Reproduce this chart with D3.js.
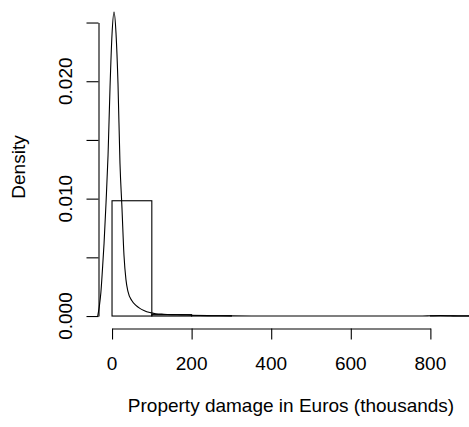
<!DOCTYPE html>
<html>
<head>
<meta charset="utf-8">
<script src="https://cdn.jsdelivr.net/npm/d3@7"></script>
<style>
  body { margin: 0; background: #fff; }
  svg { display: block; font-family: "Liberation Sans", Arial, sans-serif; }
</style>
</head>
<body>
<svg id="grafico"></svg>
<script>
// histogram bins (thousands of euros) and their densities
const binEdges = [0, 100, 200, 300, 400, 500, 600, 700, 800, 900];
const binDensity = [0.00982, 0.00012, 0.00003, 0, 0, 0, 0, 0, 0.00002];

// kernel density curve
const densX = [-36, -32, -28, -24, -20, -15, -10, -5, 0, 5, 10, 15, 20, 25, 30, 35, 40, 50, 60, 70, 80, 95,
  110, 130, 150, 175, 200, 250, 300, 350, 780, 800, 825, 850, 870, 900];
const densY = [0, 0.0008, 0.002, 0.004, 0.0062, 0.0097, 0.0137, 0.0195, 0.024, 0.0259, 0.0241, 0.0198, 0.013,
  0.0092, 0.0052, 0.0031, 0.0021, 0.0013, 0.0009, 0.00065, 0.00048, 0.0003,
  0.0002, 0.00015, 0.00012, 0.0001, 0.00007, 0.00003, 0.00001, 0, 0, 0.00002, 0.00004, 0.00002, 0, 0];

const xTicks = [0, 200, 400, 600, 800];
const yTicks = [0, 0.005, 0.010, 0.015, 0.020, 0.025];
const yLabels = [0, 0.010, 0.020];

const largura = 469, altura = 427;
const fonte = 19;

const svg = d3.select('#grafico').attr('width', largura).attr('height', altura);

const x = d3.scaleLinear().domain([-36, 936]).range([97.7, 484.5]);
const y = d3.scaleLinear().domain([-0.001036, 0.026936]).range([328.2, -0.2]);

// histogram bars
const barras = binDensity.map((d, i) => ({ x0: binEdges[i], x1: binEdges[i + 1], valor: d }));
svg.selectAll('.barra')
  .data(barras)
  .enter()
  .append('rect')
  .classed('barra', true)
  .attr('x', d => x(d.x0))
  .attr('y', d => y(d.valor))
  .attr('width', d => x(d.x1) - x(d.x0))
  .attr('height', d => y(0) - y(d.valor))
  .attr('fill', 'none')
  .attr('stroke', '#000')
  .attr('stroke-width', 1.1);

// density line
const pontos = densX.map((v, i) => [v, densY[i]]);
const linha = d3.line().x(d => x(d[0])).y(d => y(d[1])).curve(d3.curveMonotoneX);
svg.append('path')
  .datum(pontos)
  .attr('d', linha)
  .attr('fill', 'none')
  .attr('stroke', '#000')
  .attr('stroke-width', 1.1);

// axes, line only between first and last tick like R
const xEixo = x.copy().domain([0, 800]).range([x(0), x(800)]);
const eixoX = d3.axisBottom(xEixo).tickValues(xTicks).tickSize(11).tickSizeOuter(0).tickFormat('');
svg.append('g')
  .attr('transform', 'translate(0, 328.5)')
  .call(eixoX);

const yEixo = y.copy().domain([0, 0.025]).range([y(0), y(0.025)]);
const eixoY = d3.axisLeft(yEixo).tickValues(yTicks).tickSize(12).tickSizeOuter(0).tickFormat('');
svg.append('g')
  .attr('transform', 'translate(98.5, 0)')
  .call(eixoY);

svg.selectAll('.domain, .tick line').attr('stroke', '#000').attr('stroke-width', 1.1);

// tick labels
svg.selectAll('.rotuloX')
  .data(xTicks)
  .enter()
  .append('text')
  .classed('rotuloX', true)
  .attr('x', d => x(d))
  .attr('y', 370)
  .attr('text-anchor', 'middle')
  .style('font-size', fonte + 'px')
  .text(d => d);

svg.selectAll('.rotuloY')
  .data(yLabels)
  .enter()
  .append('text')
  .classed('rotuloY', true)
  .attr('transform', d => `translate(72, ${y(d)}) rotate(-90)`)
  .attr('text-anchor', 'middle')
  .style('font-size', fonte + 'px')
  .text(d => d3.format('.3f')(d));

// axis titles
svg.append('text')
  .attr('transform', 'translate(291, 412)')
  .attr('text-anchor', 'middle')
  .style('font-size', fonte + 'px')
  .text('Property damage in Euros (thousands)');

svg.append('text')
  .attr('transform', 'translate(25, 167) rotate(-90)')
  .attr('text-anchor', 'middle')
  .style('font-size', fonte + 'px')
  .text('Density');
</script>
</body>
</html>
